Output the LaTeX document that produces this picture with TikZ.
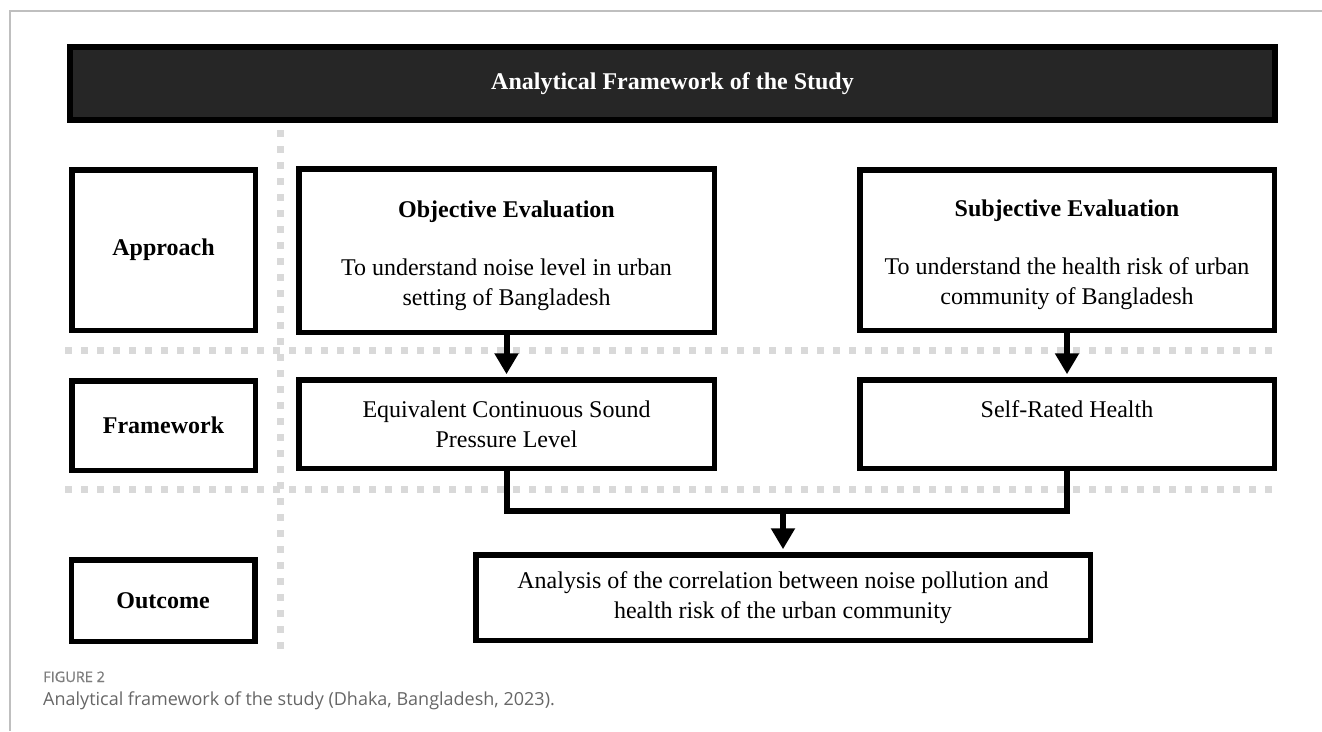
\documentclass[tikz,border=0pt]{standalone}
\usepackage{fontspec}
\setmainfont{Liberation Serif}
\newfontfamily\capfont{Open Sans}
\newfontfamily\caplabelfont[FakeBold=1]{Open Sans}
\usetikzlibrary{arrows.meta,calc}
\definecolor{titlegray}{HTML}{262626}
\definecolor{dotgray}{HTML}{D9D9D9}
\definecolor{framegray}{HTML}{BFBFBF}
\definecolor{capgray}{HTML}{666666}
\begin{document}
\begin{tikzpicture}[x=1pt,y=-1pt,
  box/.style={draw=black,line width=5.5pt,fill=white,align=center,inner sep=0pt,
    font=\fontsize{24}{30}\selectfont},
  guide/.style={dotgray,line width=7pt,dash pattern=on 7pt off 9pt},
  arr/.style={line width=6pt,shorten >=2.75pt,-{Triangle[width=23pt,length=21pt]}},
  link/.style={line width=6pt}]

\useasboundingbox (0,0) rectangle (1322,731);

% frame
\draw[framegray,line width=1.5pt] (1322,11) -- (10,11) -- (10,731);

% dotted guides
\draw[guide] (65,350) -- (1272,350);
\draw[guide] (65,489) -- (1272,489);
\draw[guide] (280,130) -- (280,650);

% title
\node[box,fill=titlegray,line width=6pt,text=white,minimum width=1205pt,minimum height=73pt] (title) at (672.5,83.5) {\textbf{Analytical Framework of the Study}};

% row labels
\node[box,minimum width=183.5pt,minimum height=160.5pt] (approach) at (163.5,250) {\textbf{Approach}};
\node[box,minimum width=183.5pt,minimum height=89.5pt] (framework) at (163.5,425.5) {\textbf{Framework}};
\node[box,minimum width=183.5pt,minimum height=81.5pt] (outcome) at (163,600.5) {\textbf{Outcome}};

% approach boxes
\node[box,minimum width=415.5pt,minimum height=163.5pt] (objective) at (506.5,250.5)
  {\rule{0pt}{27pt}\textbf{Objective Evaluation}\\[28pt] To understand noise level in urban\\ setting of Bangladesh};
\node[box,minimum width=414.5pt,minimum height=160.5pt] (subjective) at (1067,250)
  {\rule{0pt}{27pt}\textbf{Subjective Evaluation}\\[28pt] To understand the health risk of urban\\ community of Bangladesh};

% framework boxes
\node[box,minimum width=415.5pt,minimum height=88.5pt] (espl) at (506.5,424)
  {Equivalent Continuous Sound\\ Pressure Level};
\node[box,minimum width=414.5pt,minimum height=88.5pt] (selfrated) at (1067,424)
  {Self-Rated Health\\ \mbox{}};

% outcome box
\node[box,minimum width=614.5pt,minimum height=85.5pt] (analysis) at (783,597.5)
  {Analysis of the correlation between noise pollution and\\ health risk of the urban community};

% connectors
\coordinate (merge) at (783,511);
\draw[arr] (objective) -- (espl);
\draw[arr] (subjective) -- (selfrated);
\draw[link] (espl.south) |- (merge) -| (selfrated.south);
\draw[arr] (merge) -- (analysis.north);

% caption
\node[anchor=base west,inner sep=0pt,text=capgray!85,font=\caplabelfont\fontsize{14.5}{16}\selectfont] (figlabel) at (43,682) {FIGURE 2};
\node[anchor=base west,inner sep=0pt,text=capgray,font=\capfont\fontsize{18}{20}\selectfont] (figcaption) at (43,705) {Analytical framework of the study (Dhaka, Bangladesh, 2023).};

\end{tikzpicture}
\end{document}
